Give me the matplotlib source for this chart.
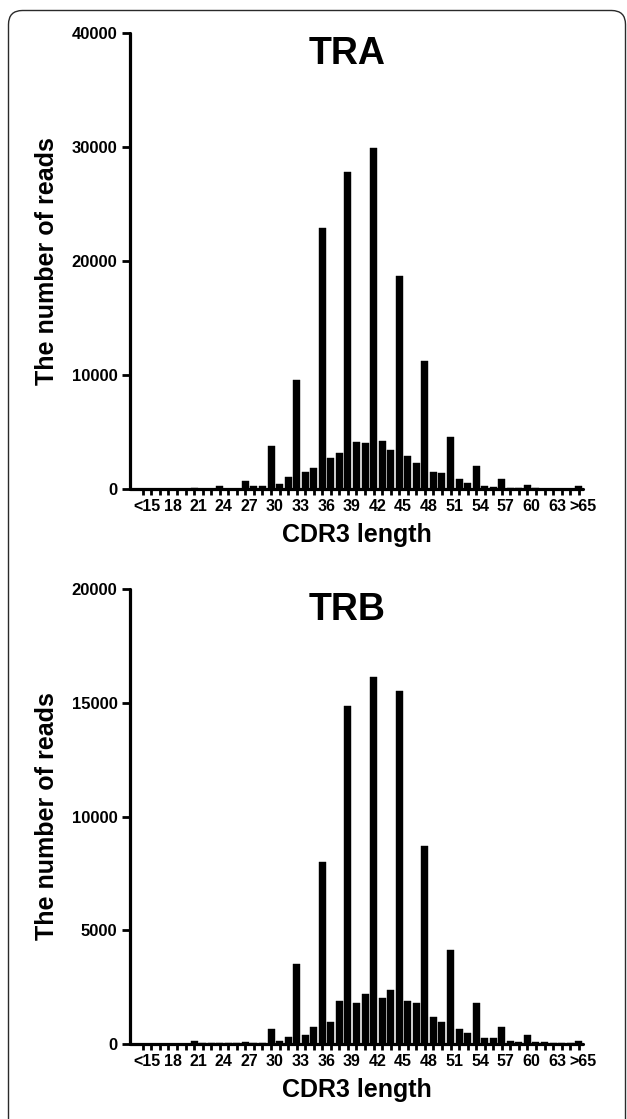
import matplotlib
matplotlib.use("Agg")
import matplotlib.pyplot as plt
from matplotlib.patches import FancyBboxPatch
from matplotlib.transforms import IdentityTransform, ScaledTranslation

plt.rcParams['font.family'] = ['Liberation Sans', 'DejaVu Sans']
plt.rcParams['font.weight'] = 'bold'

# CDR3 长度类别: <15, 16 ... 65, >65
lengths = ['<15'] + [str(n) for n in range(16, 66)] + ['>65']
shown = ['<15'] + [str(n) for n in range(18, 64, 3)] + ['>65']

tra_reads = [30, 20, 20, 30, 20, 30, 120, 30, 40, 300, 30, 40,
             730, 260, 260, 3750, 440, 1030, 9550, 1520, 1820, 22900,
             2750, 3200, 27800, 4150, 4000, 29900, 4220, 3400, 18700,
             2930, 2300, 11200, 1490, 1380, 4600, 900, 500, 2020, 260,
             200, 850, 100, 60, 350, 60, 40, 40, 30, 30, 300]

trb_reads = [20, 20, 20, 20, 20, 20, 130, 30, 30, 30, 30, 40,
             110, 40, 60, 660, 150, 320, 3530, 400, 760, 8000,
             980, 1890, 14850, 1790, 2190, 16150, 2040, 2380, 15500,
             1880, 1820, 8720, 1200, 980, 4150, 640, 470, 1790, 260,
             280, 760, 150, 100, 380, 100, 100, 50, 50, 50, 130]

panels = [
    ('TRA', tra_reads, 40000, 10000, [0.2073, 0.5630, 0.7225, 0.4075]),
    ('TRB', trb_reads, 20000, 5000, [0.2073, 0.0670, 0.7225, 0.4066]),
]

fig = plt.figure(figsize=(6.27, 11.19), dpi=100)

# 外框 (圆角)
frame = FancyBboxPatch((8.5, -30), 617, 1119 - 10.5 + 30,
                       boxstyle='round,pad=0,rounding_size=14',
                       transform=IdentityTransform(), fill=False,
                       edgecolor='#2a2a2a', linewidth=1.0)
fig.patches.append(frame)

x = list(range(len(lengths)))
shift = ScaledTranslation(4 / 100, 0, fig.dpi_scale_trans)

for title, reads, ymax, ystep, rect in panels:
    ax = fig.add_axes(rect)
    ax.bar(x, reads, width=0.82, color='black', edgecolor='black', linewidth=0.3)
    ax.set_xlim(-1.5, 51.5)
    ax.set_ylim(0, ymax)
    ax.set_yticks(list(range(0, ymax + 1, ystep)))
    ax.set_xticks(x)
    ax.set_xticklabels([lab if lab in shown else '' for lab in lengths])

    for side in ['top', 'right']:
        ax.spines[side].set_visible(False)
    for side in ['left', 'bottom']:
        ax.spines[side].set_linewidth(2.3)
        ax.spines[side].set_capstyle('round')

    ax.tick_params(axis='y', length=6, width=2.0, labelsize=12, pad=3)
    ax.tick_params(axis='x', length=4, width=2.0, labelsize=11.5, pad=3)
    for lab in ax.get_xticklabels():
        lab.set_fontweight('bold')
        lab.set_transform(lab.get_transform() + shift)
    for lab in ax.get_yticklabels():
        lab.set_fontweight('bold')

    ax.set_ylabel('The number of reads', fontsize=18, fontweight='bold', labelpad=9)
    ax.set_xlabel('CDR3 length', fontsize=18, fontweight='bold', labelpad=7)
    ax.text(0.48, 0.955, title, transform=ax.transAxes, ha='center', va='center',
            fontsize=27, fontweight='bold')

fig.savefig('out.png', dpi=100)
